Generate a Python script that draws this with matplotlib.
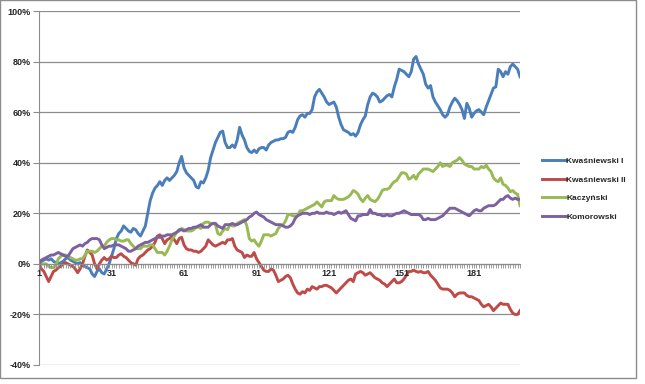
import numpy as np
import matplotlib
matplotlib.use('Agg')
import matplotlib.pyplot as plt
from matplotlib.patches import Rectangle

plt.rcParams['font.family'] = ['Liberation Sans', 'DejaVu Sans']

# percent change from day 1
kwasniewski_1 = [
	0, 1, 1.5, 2, 1.5, 2, 1, 0.5, 0, 0.5, 1, 2, 2.5, 1.5, 1, 0.5, 0, 0.5, -0.5, -1,
	-1.5, -2, -4, -5, -3, -2, -3.5, -4, -2, 0, 3, 6, 10, 12, 13, 15, 14, 13, 12.5, 14,
	13.5, 12, 11, 13, 15, 20, 25, 28, 30, 31, 32.5, 31, 33, 34, 33, 34, 35, 36.5, 40, 42.5,
	38, 36, 35, 34, 33, 30.5, 30, 32.5, 32, 34, 37, 42, 45, 48, 50, 52, 52.5, 48, 46, 46,
	47, 46, 49, 54, 51, 49, 46, 44.5, 44, 45, 44, 45.5, 46, 46, 45, 47, 48, 48.5, 49, 49,
	49.5, 49.5, 50, 52, 52.5, 52, 54, 57, 58.5, 59, 58, 59.5, 59.5, 61, 66, 68, 69, 67.5, 66, 64,
	63, 63.5, 64, 62, 58, 55, 53, 52.5, 52, 51, 51.5, 50.5, 52, 55, 57, 58.5, 63, 66, 67.5, 67,
	66, 64, 64.5, 65.5, 66.5, 67, 66, 70, 73, 77, 76.5, 76, 75, 74, 76, 81, 82, 79, 77, 75,
	71, 69.5, 70.5, 66, 64, 62.5, 61, 59, 58, 59, 62, 64, 65.5, 64.5, 63, 61, 57.5, 63.5, 61.5, 58,
	59.5, 60.5, 61, 60, 59, 62, 64.5, 67, 69.5, 70, 77, 76, 74, 76, 75, 78, 79, 78, 77, 74]

kwasniewski_2 = [
	0, -2, -3, -5, -7, -5, -3, -2.5, -1.5, -1, 0, 0.5, 0, -0.5, -1, -2, -3.5, -2, 0, 3,
	5.5, 4.5, 3.5, 0, -2, 0, 1.5, 2.5, 1.5, 2, 3, 2.5, 2.5, 3.5, 4, 3, 2.5, 1.5, 0.5, 0,
	-0.5, 2, 3, 3.5, 4.5, 5.5, 6, 7, 8.5, 11, 11.5, 10, 8, 9.5, 10, 11, 9.5, 8, 10, 10.5,
	7.5, 6, 5.5, 5.5, 5, 5, 4.5, 5, 6, 7, 9.5, 8.5, 7.5, 7, 7.5, 8, 8.5, 8, 9.5, 9.5,
	10, 7, 5.5, 5, 4.5, 2.5, 3.5, 3, 3, 4.5, 2, 0.5, -1, -2.5, -3, -3, -2, -2.5, -4.5, -7,
	-6.5, -6, -5, -4.5, -5.5, -8, -10, -11.5, -12, -11, -11.5, -10, -10.5, -9, -9.5, -10, -9, -9, -8.5, -8.5,
	-9, -9.5, -10.5, -11.5, -10.5, -9.5, -8.5, -7.5, -6.5, -6, -7, -4, -3.5, -3, -3.5, -4.5, -4, -3.5, -4.5, -5.5,
	-6, -6.5, -7.5, -8, -9, -8, -7, -6, -7.5, -7.5, -7, -6, -4.5, -3, -3, -2.5, -3, -3.3, -3, -3.5,
	-3.5, -3, -4.5, -5.5, -6.5, -8, -9.5, -10, -10, -10, -10.5, -11.5, -13, -12, -11.5, -11.5, -11.5, -12.5, -13, -13,
	-13.5, -14, -14.5, -16, -17, -16.5, -16, -17, -18.5, -17.5, -16.5, -15.5, -16, -16, -16, -18, -19.5, -20, -20, -18.5]

kaczynski = [
	0, 0, 0, 0, -1, -1.5, -1.5, -0.5, 2, 3, 3.5, 3.5, 3, 2.5, 2, 1.5, 1.5, 2, 2, 3.5,
	5, 5, 5, 4.5, 5, 6, 7, 7, 8.5, 9.5, 10, 10, 9.5, 9.5, 9, 9, 9.5, 9.5, 8, 7,
	6, 6, 6, 7, 7, 7, 7.5, 7.5, 6, 4.5, 4.5, 4.5, 3.5, 5, 7, 9.5, 11, 12.5, 13, 14,
	13.5, 13, 13, 13, 13.5, 14.5, 14.5, 14, 16, 16.5, 16.5, 16, 16, 15.5, 12, 11.5, 13, 14, 13.5, 15.5,
	15, 15, 16, 16.5, 17, 17.5, 15, 10, 9, 9.5, 8, 7, 9, 11.5, 11.5, 11.5, 11, 11.5, 12, 14,
	15, 15.5, 17, 19.5, 19.5, 19, 19, 19, 21, 21, 21.5, 22, 22.5, 23, 23.5, 24.5, 23.5, 22.5, 24.5, 25,
	25, 25, 27, 26, 25.5, 25.5, 25.5, 26, 26.5, 27.5, 29, 28.5, 27.5, 25.7, 24.6, 26, 27, 25.5, 25, 24.6,
	25.5, 27, 29, 29.5, 29.5, 30, 31.5, 32.5, 33, 34.5, 36, 36, 35.5, 33.5, 34, 35, 33.5, 35.5, 36.5, 37.5,
	37.5, 37.5, 37, 36.5, 37.5, 38.5, 40, 38.5, 39, 39, 38.5, 40, 40.5, 41, 42, 41, 39.5, 39, 38.5, 38.5,
	37.5, 37.5, 37.5, 38.5, 38, 39, 37.5, 36.5, 34, 33, 32.5, 34, 31.5, 31, 30, 28.5, 29, 28, 27.5, 23]

komorowski = [
	0, 1.5, 2, 2.5, 3, 3.5, 3.5, 4, 4.5, 4, 3.5, 3, 3, 4.5, 6, 6.5, 7, 7.5, 7, 8,
	8.5, 9.5, 10, 10, 10, 9.5, 7.5, 6, 6.5, 7, 7, 7.5, 7.5, 7.5, 7, 6.5, 6, 5, 5, 5.5,
	6, 7, 7.5, 8, 8.5, 8.5, 9, 9.5, 10, 10.5, 10.5, 11, 11, 11.5, 11.5, 11.5, 12, 12.5, 13.5, 13.5,
	13, 13.5, 14, 14, 14.5, 14.5, 15, 15.5, 14.5, 14.5, 14.5, 15.5, 16, 16, 15, 14.5, 14, 15.5, 15.5, 15.5,
	16, 15.5, 15.5, 16, 16.5, 17, 17.5, 18.5, 19, 20, 20.5, 19.5, 19, 18.5, 17.5, 17, 16.5, 16, 15.5, 15.5,
	15.5, 15, 14.5, 14.5, 15, 16, 18, 19, 19.5, 20, 20, 20, 19.5, 20, 20, 20.5, 20, 20, 20, 20.5,
	20, 20, 19.5, 20, 20.5, 20, 20.5, 21, 19.5, 18, 17.5, 17, 19, 19, 19.5, 19.5, 19.5, 21.5, 20, 20,
	19.5, 19.5, 19, 19, 19.5, 19, 19, 19.5, 20, 20, 20.5, 21, 20.5, 20, 19.5, 19.5, 19.5, 19.5, 19, 17.5,
	17.5, 18, 17.5, 17.5, 17.5, 18, 18.5, 19, 20, 21, 22, 22, 22, 21.5, 21, 20.5, 20, 19.5, 19, 20,
	21, 21.5, 21, 21, 22, 22.5, 23, 23, 23, 23.5, 24.5, 25.5, 25.5, 26.5, 27, 26, 25.5, 26, 25.5, 25.5]

names = ['Kwaśniewski I', 'Kwaśniewski II', 'Kaczyński', 'Komorowski']
colors = ['#4A7EBB', '#BE4B48', '#98B954', '#7D60A0']
series = [kwasniewski_1, kwasniewski_2, kaczynski, komorowski]

yticks = [-40, -20, 0, 20, 40, 60, 80, 100]
xticks = [1, 31, 61, 91, 121, 151, 181]

fig = plt.figure(figsize=(6.45, 3.84), dpi=100)
# chart area border like excel
fig.patches.append(Rectangle((0, 1 - 378 / 384.), 636 / 645., 378 / 384., transform=fig.transFigure,
	fill=False, edgecolor='#8c8c8c', linewidth=1))

ax = fig.add_axes([39 / 645., 1 - 365 / 384., (520 - 39) / 645., (365 - 11) / 384.])

# gridlines behind the series, axis labels on top of them (as in excel)
for v in yticks:
	ax.axhline(v, color='#8c8c8c', linewidth=0.9, zorder=1)

days = np.arange(1, len(kwasniewski_1) + 1)
for data, name, c in zip(series, names, colors):
	ax.plot(days, data, color=c, linewidth=2.1, label=name, solid_joinstyle='round', zorder=2)

ax.set_xlim(1, len(days))
ax.set_ylim(-40, 100)
ax.set_yticks(yticks)
ax.set_yticklabels(['%d%%' % v for v in yticks])
ax.set_axisbelow(False)

ax.spines['top'].set_visible(False)
ax.spines['right'].set_visible(False)
ax.spines['left'].set_color('#8c8c8c')
ax.spines['bottom'].set_color('#8c8c8c')
ax.spines['bottom'].set_position(('data', 0))

ax.set_xticks(xticks)
ax.set_xticks(days, minor=True)
ax.tick_params(axis='x', which='both', direction='out', length=3, width=0.6, color='#8c8c8c', pad=1)
ax.tick_params(axis='y', length=4, width=0.8, color='#8c8c8c', pad=2)
for lab in ax.get_xticklabels() + ax.get_yticklabels():
	lab.set_fontsize(6.5)
	lab.set_fontweight('bold')
	lab.set_color('#262626')

leg = fig.legend(loc='center left', bbox_to_anchor=(538 / 645., 1 - 189 / 384.), frameon=False,
	fontsize=6, handlelength=2.8, handletextpad=0.1, labelspacing=1.3, borderpad=0)
for t in leg.get_texts():
	t.set_fontweight('bold')
	t.set_color('#262626')
for h in leg.legend_handles:
	h.set_linewidth(2.1)

fig.savefig('out.png', dpi=100)
